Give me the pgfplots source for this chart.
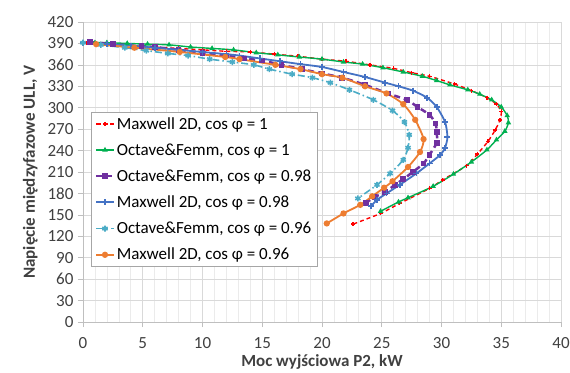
\documentclass[border=0pt]{standalone}
\usepackage{fontspec}
\setmainfont{Carlito}
\usepackage{pgfplots}
\pgfplotsset{compat=1.18}
\definecolor{cred}{HTML}{FF0000}
\definecolor{cgreen}{HTML}{00B050}
\definecolor{cpurple}{HTML}{7030A0}
\definecolor{cblue}{HTML}{4472C4}
\definecolor{cteal}{HTML}{4BACC6}
\definecolor{corange}{HTML}{ED7D31}
\definecolor{gridc}{HTML}{D9D9D9}
\definecolor{gridm}{HTML}{EBEBEB}
\definecolor{axisc}{HTML}{BFBFBF}
\definecolor{legc}{HTML}{A6A6A6}
\definecolor{txt}{HTML}{404040}
\begin{document}
\begin{tikzpicture}
\begin{axis}[
  scale only axis, width=478pt, height=300pt,
  xmin=0, xmax=40, ymin=0, ymax=420,
  xtick={0,5,...,40}, ytick={0,30,...,420},
  minor x tick num=4,
  xmajorgrids, xminorgrids, ymajorgrids,
  major grid style={draw=gridc, line width=0.6pt},
  minor grid style={draw=gridm, line width=0.6pt},
  axis x line=bottom, axis y line=left,
  axis line style={draw=axisc, -, line width=0.6pt},
  tick style={draw=axisc, line width=0.6pt},
  major tick length=5pt, minor tick length=0pt,
  tick align=outside,
  /pgf/number format/assume math mode=true,
  ticklabel style={font=\fontsize{17}{19}\selectfont, text=txt},
  yticklabel style={xshift=-1pt},
  xticklabel style={yshift=-7pt},
  xlabel={\textbf{Moc wyjściowa P2, kW}},
  ylabel={\textbf{Napięcie międzyfazowe ULL, V}},
  label style={font=\fontsize{17}{19}\selectfont, text=txt},
  xlabel style={yshift=1pt},
  ylabel style={yshift=3pt},
  legend style={at={(axis cs:0.67,294)}, anchor=north west, draw=legc, fill=white,
    font=\fontsize{17}{19}\selectfont, row sep=9pt, inner xsep=4pt, inner ysep=3pt},
  legend cell align=left,
  every axis plot/.append style={mark options={solid}},
]
\addplot[cred, line width=1.4pt, dash pattern=on 4pt off 3pt, smooth, tension=0.4, mark=+, mark size=2pt] coordinates {
(0.3,390)(2.0,389)(4.0,387)(6.0,385)(8.0,383)(10.0,381)(12.0,379)(14.0,378)(16.0,375)(18.0,372)(20.0,368)(22.0,365)(24.0,360)(26.0,355)(27.5,349)(29.0,344)(31.1,333)(32.5,324)(33.8,314)(34.6,305)(35.0,295)(34.9,283)(34.5,269)(33.9,253)(33.0,235)(32.1,219)(30.1,199)(29.0,187)(26.5,166)(24.9,152)(22.6,137)
};
\addlegendentry{Maxwell 2D, cos φ = 1}
\addplot[cgreen, line width=1.4pt, smooth, tension=0.4, mark=triangle*, mark size=1.8pt] coordinates {
(1.0,391)(2.0,391)(3.7,390)(5.4,389)(7.2,388)(9.0,385)(10.8,383)(12.6,381)(14.5,377)(16.3,374)(18.1,371)(20.0,368)(21.8,364)(23.4,361)(25.1,356)(26.8,350)(28.4,344)(29.6,338)(30.7,332)(32.2,325)(33.2,319)(34.2,311)(35.0,301)(35.5,289)(35.6,279)(35.3,267)(34.6,255)(33.8,241)(32.5,224)(31.0,207)(29.3,190)(27.2,174)(26.4,168)(24.9,155)
};
\addlegendentry{Octave\&Femm, cos φ = 1}
\addplot[cpurple, line width=2.5pt, dash pattern=on 6pt off 4pt, smooth, tension=0.4, mark=square*, mark size=1.6pt] coordinates {
(0.6,392)(2.5,389)(4.9,386)(6.0,385)(8.0,381)(10.0,377)(12.0,373)(13.5,369)(15.0,366)(16.6,360)(18.3,354)(20.0,348)(21.7,342)(23.6,332)(25.5,320)(27.1,311)(28.0,301)(29.0,290)(29.5,278)(29.6,266)(29.6,251)(29.0,234)(28.5,222)(27.6,210)(26.8,200)(26.1,192)(25.3,182)(24.4,175)(23.7,167)
};
\addlegendentry{Octave\&Femm, cos φ = 0.98}
\addplot[cblue, line width=1.8pt, smooth, tension=0.4, mark=+, mark size=3pt] coordinates {
(0.0,391)(2.0,389)(4.0,387)(6.0,384)(8.0,381)(10.0,378)(12.0,375)(13.1,373)(14.8,369)(16.5,365)(18.2,361)(20.0,357)(21.8,350)(23.6,343)(25.3,335)(26.4,330)(27.6,324)(28.8,314)(29.6,301)(30.3,280)(30.5,259)(30.3,244)(29.9,234)(29.0,222)(27.9,208)(26.5,192)(25.4,180)(24.6,171)(24.1,162)
};
\addlegendentry{Maxwell 2D, cos φ = 0.98}
\addplot[cteal, line width=1.6pt, dash pattern=on 7pt off 3pt on 1.5pt off 3pt, smooth, tension=0.4, mark=asterisk, mark size=3pt] coordinates {
(0.0,391)(1.5,388)(3.5,384)(5.3,380)(7.1,376)(8.8,373)(10.6,368)(12.5,364)(14.3,360)(15.6,354)(17.5,347)(19.2,342)(20.7,335)(22.3,325)(24.3,311)(25.9,296)(26.9,280)(27.3,262)(27.2,244)(26.8,227)(25.7,208)(24.6,192)(23.0,173)
};
\addlegendentry{Octave\&Femm, cos φ = 0.96}
\addplot[corange, line width=1.8pt, smooth, tension=0.4, mark=*, mark size=2.2pt] coordinates {
(1.1,389)(4.3,384)(8.1,378)(11.9,371)(13.1,368)(16.1,360)(18.2,354)(20.0,347)(21.7,342)(23.6,330)(25.4,320)(26.8,305)(27.8,283)(28.5,256)(28.2,238)(27.2,217)(25.9,197)(25.2,188)(24.2,176)(23.2,164)(21.8,152)(20.4,138)
};
\addlegendentry{Maxwell 2D, cos φ = 0.96}
\coordinate (SW) at (rel axis cs:0,0);
\coordinate (NE) at (rel axis cs:1,1);
\end{axis}
\pgfresetboundingbox
\path[use as bounding box] ([xshift=-83pt,yshift=-50pt]SW) rectangle ([xshift=9pt,yshift=22pt]NE);
\end{tikzpicture}
\end{document}
